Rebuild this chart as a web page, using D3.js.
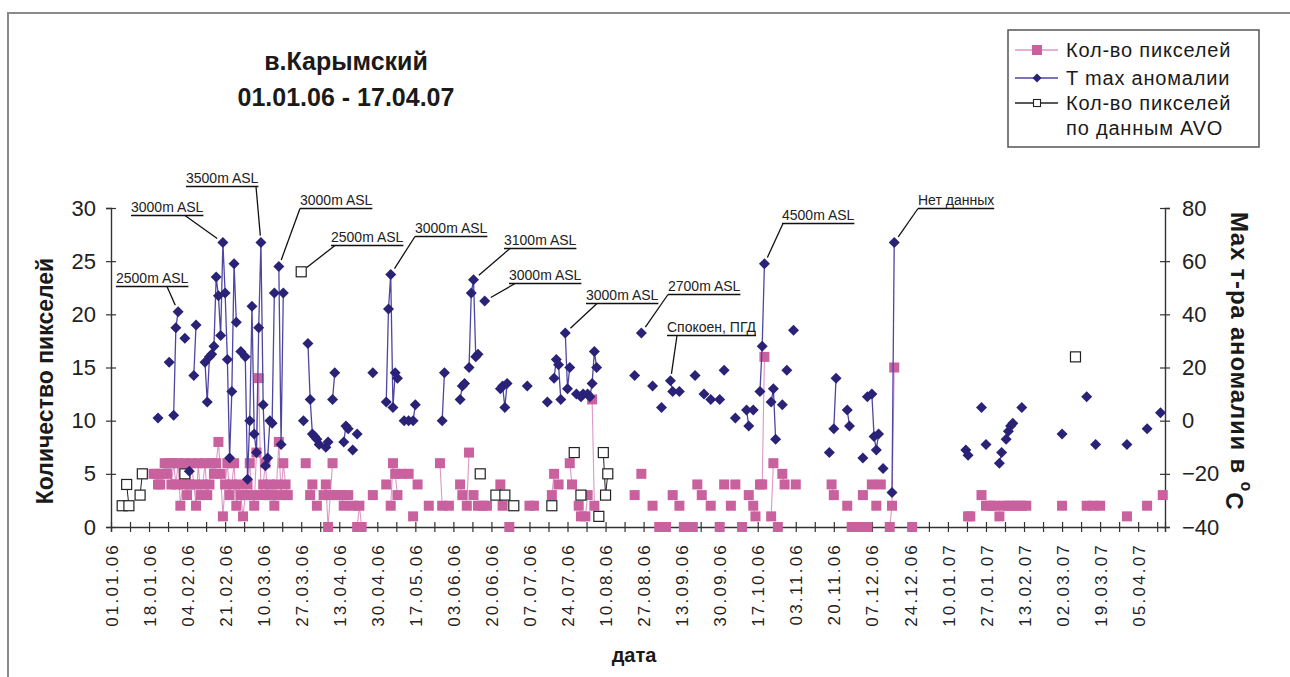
<!DOCTYPE html>
<html lang="ru">
<head>
<meta charset="UTF-8">
<title>в.Карымский</title>
<script src="https://cdn.jsdelivr.net/npm/d3@7"></script>
<style>
  body { margin: 0; background: #fff; }
  text { font-family: "Liberation Sans", Arial, sans-serif; }
</style>
</head>
<body>
<svg id="chart" width="1290" height="677"></svg>
<script>
// --- data: day number counted from 01.01.06 ---
// T max аномалии (°C, right axis)
const tempDays = [21,26,28,29,30,33,35,37,38,42,43,44,45,46,47,48,49,50,51,52,53,54,55,56,58,60,61,62,63,64,65,66,67,68,69,70,71,72,73,75,76,77,
  86,88,89,90,91,92,93,96,97,99,100,104,105,106,108,110,117,123,124,125,126,127,128,131,133,135,136,148,149,156,157,158,160,161,162,163,164,167,
  174,175,176,177,186,195,198,199,200,201,203,204,205,208,210,211,213,214,215,216,217,234,237,242,246,250,251,254,261,265,268,272,274,279,
  284,285,287,290,291,292,295,296,297,300,302,305,321,323,324,329,330,336,338,340,341,342,343,345,349,350,382,383,389,391,397,398,400,401,402,403,
  407,425,436,440,454,463,469];
const tempVals = [1,22,2,35,41,31,-19,17,36,22,7,24,25,28,54,47,32,67,48,23,-14,11,59,37,26,24,-22,0,43,-5,-12,35,67,6,-17,-14,0,-1,48,58,-9,48,
  0,29,8,-5,-6,-7,-9,-10,-8,8,18,-8,-2,-3,-11,-5,18,7,42,55,5,18,16,0,0,0,6,0,18,8,13,14,20,48,53,24,25,45,
  12,13,5,14,13,7,16,23,21,8,33,12,20,10,9,10,10,9,14,26,20,17,33,13,5,15,11,11,17,10,8,8,19,1,
  4,-2,4,11,28,59,7,12,-7,6,19,34,-12,-3,16,4,-2,-14,9,10,-6,-11,-5,-18,-27,67,-11,-13,5,-9,-16,-12,-7,-4,-2,-1,
  5,-5,9,-9,-9,-3,3];

// Кол-во пикселей (left axis)
const pixDays = [19,20,21,22,23,24,25,26,27,28,29,30,31,32,33,34,35,36,37,38,39,40,41,42,43,44,45,46,47,48,49,50,51,52,53,54,55,56,57,58,59,
  60,61,62,63,64,65,66,67,68,69,70,71,72,73,74,75,76,77,78,79,87,89,90,92,95,96,97,98,99,101,103,104,106,108,110,111,112,117,123,125,126,127,
  128,130,133,135,137,142,147,148,151,156,157,159,160,162,164,166,168,174,175,178,187,189,197,198,200,205,206,209,210,212,213,215,216,234,237,
  242,245,248,251,254,256,260,262,264,268,272,274,277,279,282,285,287,288,290,291,292,295,296,298,300,301,306,322,323,329,331,334,336,338,340,
  342,344,348,349,350,358,383,384,389,391,393,395,397,399,401,403,405,407,409,425,436,439,442,454,463,470];
const pixVals = [5,5,4,4,5,6,5,6,4,6,4,6,2,4,6,3,4,6,4,2,6,3,4,6,3,4,6,5,6,8,5,1,4,6,3,4,6,2,4,3,1,
  3,4,6,3,2,7,14,3,4,6,3,4,3,2,4,8,3,6,4,3,6,3,4,2,3,4,0,3,6,3,3,2,3,2,0,2,0,3,4,2,6,5,
  3,5,5,1,4,2,6,2,2,4,3,2,7,3,2,2,2,4,2,0,2,2,3,5,4,6,4,2,1,1,3,12,2,3,5,
  2,0,0,3,2,0,0,4,3,2,0,4,2,4,0,3,2,1,4,4,16,1,6,0,5,4,4,4,3,2,0,0,3,0,4,
  2,4,0,2,15,0,1,1,3,2,2,2,1,2,2,2,2,2,2,2,2,2,2,1,2,3];

// Кол-во пикселей по данным AVO (left axis)
const avoDays = [5,7,8,13,14,33,85,165,172,176,180,197,207,210,218,220,221,222,431];
const avoVals = [2,4,2,3,5,5,24,5,3,3,2,2,7,3,1,7,3,5,16];

const leftTicks = [0,5,10,15,20,25,30];
const rightTicks = [-40,-20,0,20,40,60,80];

const legendLabels = [["Кол-во пикселей"], ["T max аномалии"], ["Кол-во пикселей", "по данным AVO"]];

// callouts: text, where the text sits, where the leader leaves the underline, which point it marks
const notes = [
  {text: "2500m ASL", x: 116, y: 283, ux: 167, series: "t", day: 30},
  {text: "3000m ASL", x: 131, y: 212, ux: 185, series: "t", day: 50},
  {text: "3500m ASL", x: 186, y: 183, ux: 256, series: "t", day: 67},
  {text: "3000m ASL", x: 300, y: 205, ux: 300, series: "t", day: 75},
  {text: "2500m ASL", x: 331, y: 242, ux: 335, series: "avo", day: 85},
  {text: "3000m ASL", x: 415, y: 233, ux: 415, series: "t", day: 125},
  {text: "3100m ASL", x: 504, y: 245, ux: 510, series: "t", day: 162},
  {text: "3000m ASL", x: 509, y: 280, ux: 515, series: "t", day: 167},
  {text: "3000m ASL", x: 586, y: 300, ux: 597, series: "t", day: 203},
  {text: "2700m ASL", x: 668, y: 291, ux: 668, series: "t", day: 237},
  {text: "Спокоен, ПГД", x: 667, y: 332, ux: 677, series: "t", day: 250},
  {text: "4500m ASL", x: 782, y: 220, ux: 783, series: "t", day: 292},
  {text: "Нет данных", x: 918, y: 205, ux: 918, series: "t", day: 350}
];

// --- colours ---
const pinkFill = "#c8619e", pinkLine = "#dc98c6";
const navyFill = "#2a2277", navyLine = "#4f46a2";

const svg = d3.select("#chart");
svg.append("rect").attr("width", 1290).attr("height", 677).attr("fill", "#fff");

// outer frame of the scanned figure
svg.append("path").attr("d", "M8,677V13H1290").attr("fill", "none")
  .attr("stroke", "#8a8a8a").attr("stroke-width", 2);

const start = new Date(Date.UTC(2006, 0, 1));
const end = new Date(Date.UTC(2007, 3, 17));
const dayDate = d => d3.utcDay.offset(start, d);

const x = d3.scaleUtc().domain([start, end]).range([111, 1165]);
const yL = d3.scaleLinear().domain([0, 30]).range([527, 208]);
const yR = d3.scaleLinear().domain([-40, 80]).range([527, 208]);

// ticks every 8.5 days, label every second one
const xTicks = d3.range(0, 56).map(k => d3.utcHour.offset(start, k * 204));
xTicks.push(end);
const fmt = d3.utcFormat("%d.%m.%y");

const axisColor = "#333";

const xAxis = svg.append("g").attr("transform", "translate(0,527)")
  .call(d3.axisBottom(x).tickValues(xTicks).tickSizeOuter(0).tickSize(5)
    .tickFormat((d, i) => (i % 2 === 0 && i < 56) ? fmt(d) : ""));
xAxis.select(".domain").attr("stroke", axisColor).attr("stroke-width", 1.4);
xAxis.selectAll(".tick line").attr("y1", -5).attr("y2", 5).attr("stroke", axisColor).attr("stroke-width", 1.2);
xAxis.selectAll(".tick text")
  .attr("transform", "rotate(-90)")
  .attr("x", -16).attr("y", 0).attr("dy", "0.36em")
  .attr("text-anchor", "end")
  .attr("fill", "#222")
  .style("font-size", "17px").style("letter-spacing", "2.2px");

const leftAxis = svg.append("g").attr("transform", "translate(111,0)")
  .call(d3.axisLeft(yL).tickValues(leftTicks).tickSizeOuter(0).tickSize(5).tickPadding(10));
leftAxis.select(".domain").attr("stroke", axisColor).attr("stroke-width", 1.4);
leftAxis.selectAll(".tick line").attr("x1", -5).attr("x2", 5).attr("stroke", axisColor).attr("stroke-width", 1.2);
leftAxis.selectAll(".tick text").style("font-size", "22px").attr("fill", "#222");

const rightAxis = svg.append("g").attr("transform", "translate(1165,0)")
  .call(d3.axisRight(yR).tickValues(rightTicks).tickSizeOuter(0).tickSize(5).tickPadding(12));
rightAxis.select(".domain").attr("stroke", axisColor).attr("stroke-width", 1.4);
rightAxis.selectAll(".tick line").attr("x1", -5).attr("x2", 5).attr("stroke", axisColor).attr("stroke-width", 1.2);
rightAxis.selectAll(".tick text").style("font-size", "22px").attr("fill", "#222");

// join points into runs of consecutive days (a missing day breaks the line)
function runs(days, vals) {
  const out = [];
  let cur = [];
  days.forEach((d, i) => {
    if (cur.length && d - cur[cur.length - 1].day > 1) { out.push(cur); cur = []; }
    cur.push({day: d, v: vals[i]});
  });
  if (cur.length) out.push(cur);
  return out.filter(r => r.length > 1);
}
const pts = (days, vals) => days.map((d, i) => ({day: d, v: vals[i]}));

// pixel counts
const lineL = d3.line().x(d => x(dayDate(d.day))).y(d => yL(d.v));
svg.append("g").selectAll("path").data(runs(pixDays, pixVals)).join("path")
  .attr("d", lineL).attr("fill", "none").attr("stroke", pinkLine).attr("stroke-width", 1.1);
svg.append("g").selectAll("rect").data(pts(pixDays, pixVals)).join("rect")
  .attr("x", d => x(dayDate(d.day)) - 5).attr("y", d => yL(d.v) - 5)
  .attr("width", 10).attr("height", 10).attr("fill", pinkFill);

// AVO
svg.append("g").selectAll("path").data(runs(avoDays, avoVals)).join("path")
  .attr("d", lineL).attr("fill", "none").attr("stroke", "#222").attr("stroke-width", 1);
svg.append("g").selectAll("rect").data(pts(avoDays, avoVals)).join("rect")
  .attr("x", d => x(dayDate(d.day)) - 5).attr("y", d => yL(d.v) - 5)
  .attr("width", 10).attr("height", 10).attr("fill", "#fff")
  .attr("stroke", "#222").attr("stroke-width", 1.2);

// temperature anomalies
const lineR = d3.line().x(d => x(dayDate(d.day))).y(d => yR(d.v));
svg.append("g").selectAll("path").data(runs(tempDays, tempVals)).join("path")
  .attr("d", lineR).attr("fill", "none").attr("stroke", navyLine).attr("stroke-width", 1.3);
const diamond = "M0,-5.5L5.5,0L0,5.5L-5.5,0Z";
svg.append("g").selectAll("path").data(pts(tempDays, tempVals)).join("path")
  .attr("transform", d => `translate(${x(dayDate(d.day))},${yR(d.v)})`)
  .attr("d", diamond).attr("fill", navyFill);

// callouts
const noteG = svg.append("g");
notes.forEach(n => {
  const t = noteG.append("text").attr("x", n.x).attr("y", n.y)
    .style("font-size", "14px").attr("fill", "#222").text(n.text);
  const w = t.node().getComputedTextLength();
  const uy = n.y + 3.5;
  noteG.append("line").attr("x1", Math.min(n.x, n.ux)).attr("x2", n.x + w)
    .attr("y1", uy).attr("y2", uy).attr("stroke", "#111").attr("stroke-width", 1.3);
  let tx, ty;
  if (n.series === "avo") {
    tx = x(dayDate(n.day)); ty = yL(avoVals[avoDays.indexOf(n.day)]);
  } else {
    tx = x(dayDate(n.day)); ty = yR(tempVals[tempDays.indexOf(n.day)]);
  }
  const dx = tx - n.ux, dy = ty - uy, len = Math.hypot(dx, dy);
  const k = (len - 7) / len;
  noteG.append("line").attr("x1", n.ux).attr("y1", uy)
    .attr("x2", n.ux + dx * k).attr("y2", uy + dy * k)
    .attr("stroke", "#111").attr("stroke-width", 1.3);
});

// titles
svg.append("text").attr("x", 346).attr("y", 70).attr("text-anchor", "middle")
  .style("font-size", "25px").style("font-weight", "bold").attr("fill", "#1a1a1a").text("в.Карымский");
svg.append("text").attr("x", 346).attr("y", 106).attr("text-anchor", "middle")
  .style("font-size", "25px").style("font-weight", "bold").attr("fill", "#1a1a1a").text("01.01.06 - 17.04.07");

svg.append("text").attr("x", 634).attr("y", 662).attr("text-anchor", "middle")
  .style("font-size", "20px").style("font-weight", "bold").attr("fill", "#1a1a1a").text("дата");

svg.append("text").attr("transform", "translate(53,381) rotate(-90)").attr("text-anchor", "middle")
  .style("font-size", "23px").style("font-weight", "bold").attr("fill", "#1a1a1a").text("Количество пикселей");

const rt = svg.append("text").attr("transform", "translate(1231,212) rotate(90)")
  .style("font-size", "24px").style("font-weight", "bold").style("letter-spacing", "0.8px").attr("fill", "#1a1a1a");
rt.append("tspan").text("Max т-ра аномалии в ");
rt.append("tspan").attr("dy", "-0.6em").style("font-size", "16px").text("o");
rt.append("tspan").attr("dy", "0.6em").text("C");

// legend
const lg = svg.append("g");
lg.append("rect").attr("x", 1008).attr("y", 30).attr("width", 251).attr("height", 117)
  .attr("fill", "#fff").attr("stroke", "#555").attr("stroke-width", 1.5);
const rowsY = [50, 78, 103];
[[pinkLine, pinkFill], [navyLine, navyFill], ["#222", "#fff"]].forEach((c, i) => {
  const y = rowsY[i];
  lg.append("line").attr("x1", 1015).attr("x2", 1058).attr("y1", y).attr("y2", y)
    .attr("stroke", c[0]).attr("stroke-width", 1.3);
  if (i === 0) {
    lg.append("rect").attr("x", 1032).attr("y", y - 5).attr("width", 10).attr("height", 10).attr("fill", c[1]);
  } else if (i === 1) {
    lg.append("path").attr("transform", `translate(1037,${y})`).attr("d", "M0,-4.5L4.5,0L0,4.5L-4.5,0Z").attr("fill", c[1]);
  } else {
    lg.append("rect").attr("x", 1033.5).attr("y", y - 3.5).attr("width", 7).attr("height", 7)
      .attr("fill", c[1]).attr("stroke", c[0]).attr("stroke-width", 1.1);
  }
});
const textY = [[57], [85], [110, 135]];
legendLabels.forEach((lines, i) => {
  lines.forEach((s, j) => {
    lg.append("text").attr("x", 1066).attr("y", textY[i][j])
      .style("font-size", "20px").style("letter-spacing", "0.8px").attr("fill", "#1a1a1a").text(s);
  });
});
</script>
</body>
</html>
